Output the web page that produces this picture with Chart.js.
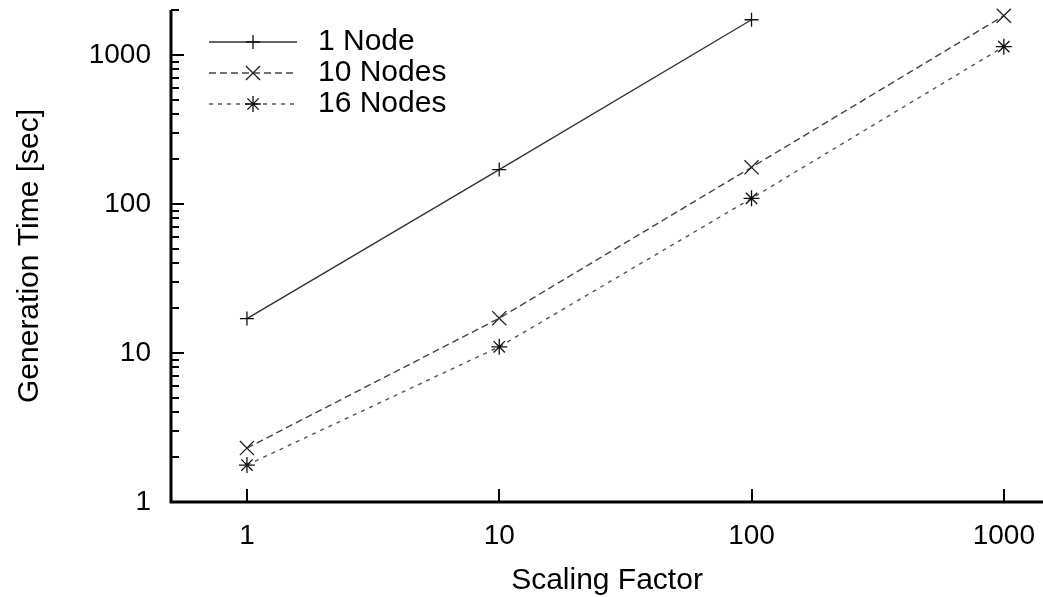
<!DOCTYPE html>
<html>
<head>
<meta charset="utf-8">
<title>Generation Time vs Scaling Factor</title>
<script src="https://cdn.jsdelivr.net/npm/chart.js@4.4.1/dist/chart.umd.min.js"></script>
<style>
    html, body { margin: 0; padding: 0; background: #fff; }
</style>
</head>
<body>
<canvas id="generationChart" width="1043" height="597"></canvas>
<script>
// values (log-log)
const scalingFactors = [1, 10, 100, 1000];
const oneNode = [17, 170, 1720];
const tenNodes = [2.3, 17.1, 176, 1830];
const sixteenNodes = [1.77, 11, 109, 1135];
const seriesLabels = ["1 Node", "10 Nodes", "16 Nodes"];
const xTickValues = [1, 10, 100, 1000];
const yTickValues = [1, 10, 100, 1000];

const FONT = "'Liberation Sans', Arial, Helvetica, sans-serif";

const toPoints = (values) =>
    values.map((y, i) => ({ x: scalingFactors[i], y: y }));

// no extra room for half tick labels, the plot fills the canvas like gnuplot
const noLabelPadding = (scale) => {
    scale.paddingTop = 0;
    scale.paddingBottom = 0;
    scale.paddingLeft = 0;
    scale.paddingRight = 0;
};

// gnuplot style axes: thick left/bottom border, ticks pointing inwards
const axesPlugin = {
    id: "gnuplotAxes",
    afterDatasetsDraw(chart) {
        const { ctx, chartArea, scales } = chart;
        const xs = scales.x;
        const ys = scales.y;
        ctx.save();
        ctx.strokeStyle = "#000";
        ctx.lineCap = "butt";

        ctx.lineWidth = 2;
        xTickValues.forEach((v) => {
            const px = Math.round(xs.getPixelForValue(v));
            ctx.beginPath();
            ctx.moveTo(px, chartArea.bottom);
            ctx.lineTo(px, chartArea.bottom - 13);
            ctx.stroke();
        });

        yTickValues.forEach((decade) => {
            for (let m = 1; m <= 9; m++) {
                const v = decade * m;
                if (v > ys.max) break;
                const py = Math.round(ys.getPixelForValue(v));
                ctx.beginPath();
                ctx.moveTo(chartArea.left, py);
                ctx.lineTo(chartArea.left + (m === 1 ? 13 : 8), py);
                ctx.stroke();
            }
        });

        ctx.lineWidth = 3;
        ctx.beginPath();
        ctx.moveTo(chartArea.left, chartArea.top);
        ctx.lineTo(chartArea.left, chartArea.bottom);
        ctx.lineTo(chartArea.right, chartArea.bottom);
        ctx.stroke();
        ctx.restore();
    },
};

// legend with the line sample and marker in the middle, like gnuplot's key
const keyPlugin = {
    id: "gnuplotKey",
    afterDraw(chart) {
        const { ctx, chartArea } = chart;
        const x0 = chartArea.left + 38;
        const x1 = chartArea.left + 126;
        const xm = (x0 + x1) / 2;
        ctx.save();
        chart.data.datasets.forEach((ds, i) => {
            const y = chartArea.top + 32 + i * 31;
            ctx.strokeStyle = ds.borderColor;
            ctx.lineWidth = ds.borderWidth;
            ctx.setLineDash(ds.borderDash || []);
            ctx.beginPath();
            ctx.moveTo(x0, y);
            ctx.lineTo(x1, y);
            ctx.stroke();
            ctx.setLineDash([]);
            ctx.strokeStyle = ds.pointBorderColor;
            ctx.lineWidth = ds.pointBorderWidth;
            Chart.helpers.drawPoint(ctx, {
                pointStyle: ds.pointStyle,
                radius: ds.pointRadius,
                rotation: 0,
                borderWidth: ds.pointBorderWidth,
            }, xm, y);
            ctx.fillStyle = "#000";
            ctx.font = "30px " + FONT;
            ctx.textAlign = "left";
            ctx.textBaseline = "middle";
            ctx.fillText(ds.label, x1 + 21, y);
        });
        ctx.restore();
    },
};

const ctx = document.getElementById("generationChart").getContext("2d");
const generationChart = new Chart(ctx, {
    type: "line",
    data: {
        datasets: [
            {
                label: seriesLabels[0],
                data: toPoints(oneNode),
                borderColor: "#333",
                borderWidth: 1.4,
                pointStyle: "cross",
                pointRadius: 7,
                pointBorderColor: "#111",
                pointBorderWidth: 1.3,
            },
            {
                label: seriesLabels[1],
                data: toPoints(tenNodes),
                borderColor: "#444",
                borderWidth: 1.4,
                borderDash: [7, 4],
                pointStyle: "crossRot",
                pointRadius: 10,
                pointBorderColor: "#222",
                pointBorderWidth: 1.3,
            },
            {
                label: seriesLabels[2],
                data: toPoints(sixteenNodes),
                borderColor: "#555",
                borderWidth: 1.4,
                borderDash: [4, 5],
                pointStyle: "star",
                pointRadius: 8,
                pointBorderColor: "#111",
                pointBorderWidth: 1.3,
            },
        ],
    },
    options: {
        responsive: false,
        animation: false,
        devicePixelRatio: 1,
        clip: false,
        layout: {
            autoPadding: false,
            padding: { top: 10, right: 0, bottom: 0, left: 0 },
        },
        elements: {
            line: { tension: 0, fill: false },
            point: { backgroundColor: "transparent", hoverRadius: 7 },
        },
        plugins: {
            legend: { display: false },
            tooltip: { enabled: false },
        },
        scales: {
            x: {
                type: "logarithmic",
                min: 0.5,
                max: 1430,
                grid: { display: false },
                border: { display: false },
                afterBuildTicks: (scale) => {
                    scale.ticks = xTickValues.map((v) => ({ value: v }));
                },
                afterFit: (scale) => {
                    scale.height = 95;
                    noLabelPadding(scale);
                },
                ticks: {
                    autoSkip: false,
                    maxRotation: 0,
                    padding: 9,
                    color: "#000",
                    font: { family: FONT, size: 28 },
                    callback: (value) => String(value),
                },
                title: {
                    display: true,
                    text: "Scaling Factor",
                    color: "#000",
                    font: { family: FONT, size: 30 },
                    padding: { top: 0, bottom: -2 },
                },
            },
            y: {
                type: "logarithmic",
                min: 1,
                max: 2000,
                grid: { display: false },
                border: { display: false },
                afterBuildTicks: (scale) => {
                    scale.ticks = yTickValues.map((v) => ({ value: v }));
                },
                afterFit: (scale) => {
                    scale.width = 171;
                    noLabelPadding(scale);
                },
                ticks: {
                    autoSkip: false,
                    padding: 12,
                    color: "#000",
                    font: { family: FONT, size: 28 },
                    callback: (value) => String(value),
                },
                title: {
                    display: true,
                    text: "Generation Time [sec]",
                    color: "#000",
                    font: { family: FONT, size: 30 },
                    padding: { top: 12, bottom: 0 },
                },
            },
        },
    },
    plugins: [axesPlugin, keyPlugin],
});
</script>
</body>
</html>
